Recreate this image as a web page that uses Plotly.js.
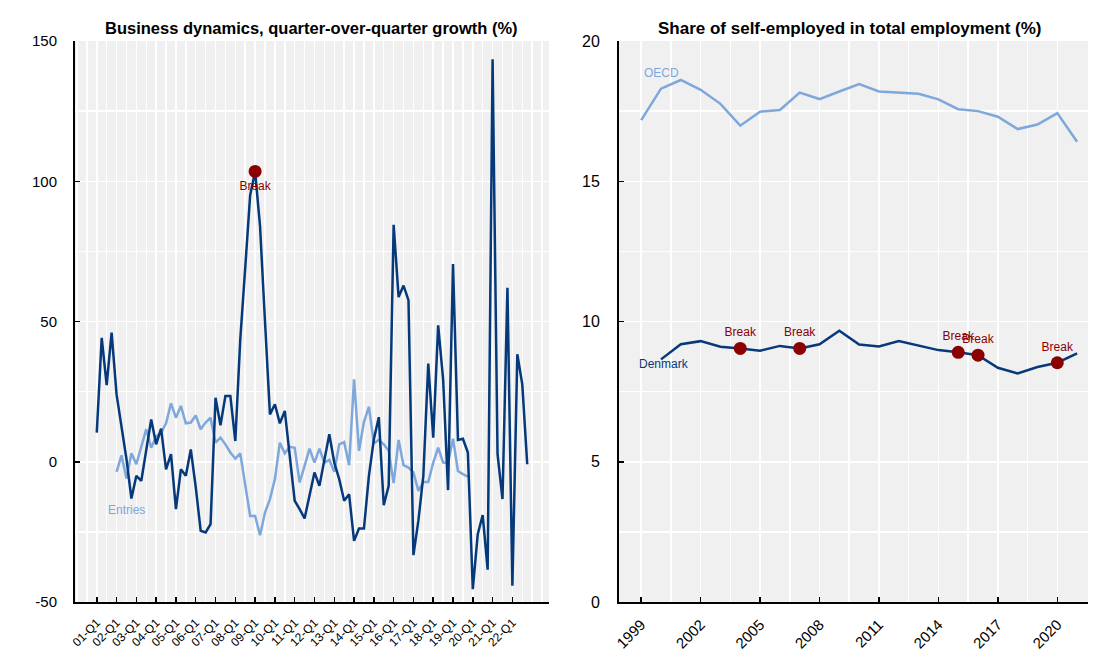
<!DOCTYPE html>
<html>
<head>
<meta charset="utf-8">
<script src="https://cdn.plot.ly/plotly-3.0.1.min.js"></script>
<style>html,body{margin:0;padding:0;background:#fff;}#chart{width:1095px;height:665px;}</style>
</head>
<body>
<div id="chart"></div>
<script>
// ---------- Left panel: business dynamics (quarterly, 2001-Q1 .. 2022-Q4) ----------
const years2 = ['01','02','03','04','05','06','07','08','09','10','11','12','13','14','15','16','17','18','19','20','21','22'];
const quarterNames = ['Q1','Q2','Q3','Q4'];
const quarters = [];
years2.forEach(y => quarterNames.forEach(q => quarters.push(y + '-' + q)));

const bankruptcies = [
  10.4, 44.2, 27.3, 46.0, 24.0, 13, 1, -13.1,
  -5, -6.8, 4, 15.1, 6.2, 11.8, -2.7, 2.7,
  -16.9, -2.7, -5, 4.4, -9, -24.6, -25.2, -22.2,
  22.8, 13, 23.4, 23.4, 7.4, 43.6, 69, 95,
  103.5, 83.9, 50, 16.9, 20.5, 13.7, 18.1, 3,
  -13.9, -16.9, -20.2, -12, -3.8, -8.6, 0.9, 9.8,
  -0.3, -6.2, -13.9, -11.6, -28.2, -23.8, -23.8, -5,
  8, 15.9, -15.5, -8.6, 84.5, 58.7, 62.8, 57.6,
  -33.3, -21, -5, 35, 8.6, 48.6, 29.4, -10.1,
  70.5, 7.8, 8.2, 3.3, -45.4, -25.8, -19, -38.5,
  143.5, 2.7, -13.3, 62, -44.2, 38.3, 27.6, -0.9
];
// Entries start in 02-Q1 and end in 19-Q4
const entriesStart = '02-Q1';
const entries = [
  -3.6, 2.3, -6, 3,
  -0.9, 5.6, 11.6, 5, 9, 10.4, 13.7, 20.8,
  15.7, 19.9, 13.7, 14, 16.5, 11.6, 14, 15.7,
  6.8, 8.6, 6.2, 3.3, 1.1, 3, -7.4, -19.3,
  -19.3, -26.2, -18.1, -13.3, -6.2, 6.8, 3, 5.3,
  5, -7.4, -1.5, 4.7, -0.3, 4.7, -0.3, 0.7,
  -3.6, 6.2, 7, -1.2, 29.4, 3.9, 14.2, 19.6,
  6.6, 7.8, 6.2, 3.9, -7.6, 7.8, -1.2, -2.1,
  -3.8, -10.4, -7.2, -7.2, -0.3, 5, -0.3, -0.4,
  8.2, -3.3, -4.4, -5.3
];
const leftBreakQuarters = ['09-Q1'];
const leftTickLabels = years2.map(y => y + '-Q1');
const leftYTicks = [-50, 0, 50, 100, 150];
const leftYLabels = ['-50', '0', '50', '100', '150'];

// ---------- Right panel: share of self-employed (annual) ----------
const yearsOECD = [1999,2000,2001,2002,2003,2004,2005,2006,2007,2008,2009,2010,2011,2012,2013,2014,2015,2016,2017,2018,2019,2020,2021];
const oecd = [17.18,18.30,18.61,18.26,17.76,16.98,17.48,17.54,18.16,17.93,18.20,18.46,18.20,18.15,18.12,17.92,17.57,17.50,17.30,16.86,17.02,17.43,16.41];
const yearsDK = [2000,2001,2002,2003,2004,2005,2006,2007,2008,2009,2010,2011,2012,2013,2014,2015,2016,2017,2018,2019,2020,2021];
const denmark = [8.65,9.19,9.30,9.10,9.04,8.96,9.13,9.04,9.19,9.67,9.18,9.11,9.30,9.15,8.98,8.90,8.80,8.35,8.15,8.38,8.53,8.86];
const rightBreakYears = [2004,2007,2015,2016,2020];
const rightTickYears = [1999,2002,2005,2008,2011,2014,2017,2020];

// ---------- derived positions ----------
const qIndex = q => quarters.indexOf(q);
const bankX = bankruptcies.map((_, i) => i);
const entX = entries.map((_, i) => i + qIndex(entriesStart));
const lbX = leftBreakQuarters.map(qIndex);
const lbY = lbX.map(i => bankruptcies[i]);
const rbY = rightBreakYears.map(y => denmark[yearsDK.indexOf(y)]);

const DARK = '#06397a';
const LIGHT = '#7ea7dc';
const RED = '#8b0000';
const FONT = 'Liberation Sans, Arial, sans-serif';

const traces = [
  {x: entX, y: entries, type: 'scatter', mode: 'lines', line: {color: LIGHT, width: 2.5}, xaxis: 'x', yaxis: 'y', hoverinfo: 'skip'},
  {x: bankX, y: bankruptcies, type: 'scatter', mode: 'lines', line: {color: DARK, width: 2.5}, xaxis: 'x', yaxis: 'y', hoverinfo: 'skip'},
  {x: lbX, y: lbY, type: 'scatter', mode: 'markers+text', text: lbX.map(() => 'Break'), textposition: 'bottom center',
   textfont: {color: RED, size: 12, family: FONT}, marker: {color: RED, size: 13}, xaxis: 'x', yaxis: 'y', cliponaxis: false},
  {x: yearsOECD, y: oecd, type: 'scatter', mode: 'lines', line: {color: LIGHT, width: 2.5}, xaxis: 'x2', yaxis: 'y2'},
  {x: yearsDK, y: denmark, type: 'scatter', mode: 'lines', line: {color: DARK, width: 2.5}, xaxis: 'x2', yaxis: 'y2'},
  {x: rightBreakYears, y: rbY, type: 'scatter', mode: 'markers+text', text: rightBreakYears.map(() => 'Break'), textposition: 'top center',
   textfont: {color: RED, size: 12, family: FONT}, marker: {color: RED, size: 13}, xaxis: 'x2', yaxis: 'y2', cliponaxis: false}
];

const W = 1095, H = 665;
const yDom = [1 - 602 / H, 1 - 41 / H];
const commonAxis = {
  ticks: 'inside', ticklen: 5, tickwidth: 1.5, tickcolor: '#000',
  showline: true, linecolor: '#000', linewidth: 2,
  showgrid: true, gridcolor: '#ffffff', gridwidth: 1.5,
  zeroline: false, automargin: false, fixedrange: true
};

const layout = {
  width: W, height: H,
  margin: {l: 0, r: 0, t: 0, b: 0},
  paper_bgcolor: '#ffffff', plot_bgcolor: '#f0f0f0',
  showlegend: false,
  font: {family: FONT, color: '#000'},
  xaxis: Object.assign({}, commonAxis, {
    domain: [75 / W, 549 / W], range: [-4.4, 91.4],
    tickmode: 'array', tickvals: leftTickLabels.map(qIndex), ticktext: leftTickLabels,
    tickangle: -45, tickfont: {size: 12}, ticklabelstandoff: 7,
    minor: {tickmode: 'linear', tick0: 0, dtick: 2, showgrid: true, gridcolor: '#ffffff', gridwidth: 1.5, ticks: ''},
    anchor: 'y'
  }),
  yaxis: Object.assign({}, commonAxis, {
    domain: yDom, range: [-50, 150], tickmode: 'array', tickvals: leftYTicks, ticktext: leftYLabels,
    tickfont: {size: 15}, ticklabelstandoff: 13,
    minor: {tickmode: 'linear', tick0: 0, dtick: 25, showgrid: true, gridcolor: '#ffffff', gridwidth: 1.5, ticks: ''},
    anchor: 'x'
  }),
  xaxis2: Object.assign({}, commonAxis, {
    domain: [619 / W, 1088 / W], range: [1997.88, 2021.55],
    tickmode: 'array', tickvals: rightTickYears, ticktext: rightTickYears.map(String),
    tickangle: -45, tickfont: {size: 15}, ticklabelstandoff: 6,
    minor: {tickmode: 'linear', tick0: 1999, dtick: 1.5, showgrid: true, gridcolor: '#ffffff', gridwidth: 1.5, ticks: ''},
    anchor: 'y2'
  }),
  yaxis2: Object.assign({}, commonAxis, {
    domain: yDom, range: [0, 20], tickmode: 'linear', tick0: 0, dtick: 5,
    tickfont: {size: 16}, ticklabelstandoff: 14,
    minor: {tickmode: 'linear', tick0: 0, dtick: 2.5, showgrid: true, gridcolor: '#ffffff', gridwidth: 1.5, ticks: ''},
    anchor: 'x2'
  }),
  annotations: [
    {text: '<b>Business dynamics, quarter-over-quarter growth (%)</b>', xref: 'paper', yref: 'paper', x: 311 / W, y: 1 - 28 / H,
     xanchor: 'center', yanchor: 'middle', showarrow: false, font: {size: 16.5, family: FONT, color: '#000'}},
    {text: '<b>Share of self-employed in total employment (%)</b>', xref: 'paper', yref: 'paper', x: 850 / W, y: 1 - 28 / H,
     xanchor: 'center', yanchor: 'middle', showarrow: false, font: {size: 17, family: FONT, color: '#000'}},
    {text: 'Bankruptcies', xref: 'x', yref: 'y', x: -5, y: 50, xanchor: 'left', yanchor: 'middle', showarrow: false,
     font: {size: 12, family: FONT, color: DARK}},
    {text: 'Entries', xref: 'x', yref: 'y', x: 6.1, y: -17.3, xanchor: 'center', yanchor: 'middle', showarrow: false,
     font: {size: 12, family: FONT, color: LIGHT}},
    {text: 'OECD', xref: 'x2', yref: 'y2', x: 1999.05, y: 18.85, xanchor: 'left', yanchor: 'middle', showarrow: false,
     font: {size: 12, family: FONT, color: LIGHT}},
    {text: 'Denmark', xref: 'x2', yref: 'y2', x: 1998.8, y: 8.5, xanchor: 'left', yanchor: 'middle', showarrow: false,
     font: {size: 12, family: FONT, color: DARK}}
  ]
};

Plotly.newPlot('chart', traces, layout, {staticPlot: true, displayModeBar: false});
</script>
</body>
</html>
